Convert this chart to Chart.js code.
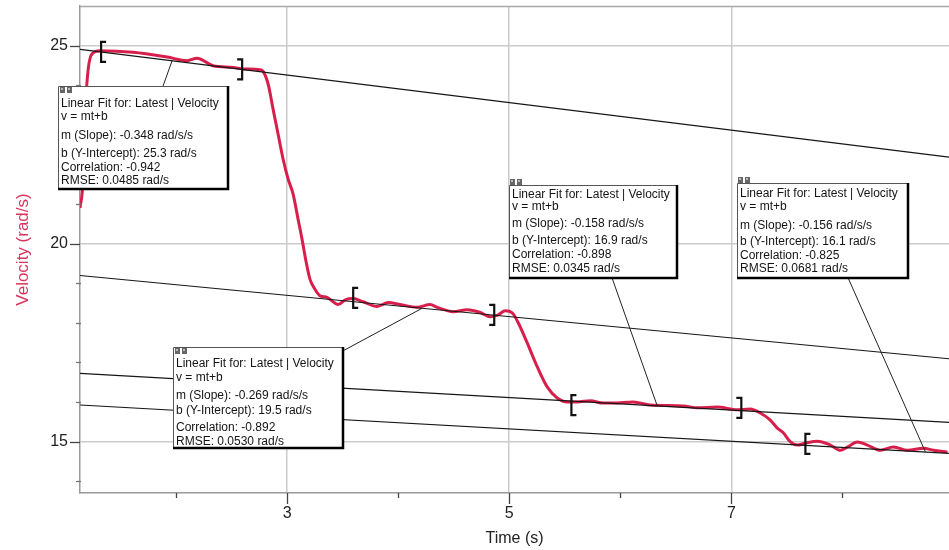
<!DOCTYPE html>
<html><head><meta charset="utf-8">
<script src="https://cdn.jsdelivr.net/npm/chart.js@4/dist/chart.umd.min.js"></script>
<style>html,body{margin:0;padding:0;background:#fff;overflow:hidden}#wrap{width:949px;height:550px;position:relative}</style>
</head><body><div id="wrap"><canvas id="c" width="949" height="550"></canvas></div>
<script>
// ---- data ----
const timeS = [1.135,1.16,1.175,1.2,1.24,1.315,1.613,1.919,2.099,2.189,2.333,2.514,2.604,2.757,2.784,2.829,2.874,2.919,2.964,3.009,3.054,3.099,3.135,3.171,3.207,3.252,3.297,3.36,3.414,3.459,3.523,3.595,3.685,3.811,3.91,4.018,4.171,4.288,4.351,4.495,4.622,4.739,4.829,4.901,4.964,5.027,5.081,5.162,5.252,5.342,5.432,5.523,5.613,5.73,5.847,5.937,6.117,6.27,6.568,6.694,6.874,7.054,7.171,7.261,7.351,7.414,7.468,7.532,7.595,7.667,7.775,7.892,7.982,8.045,8.135,8.225,8.342,8.459,8.586,8.73,8.82,8.946];
const velocity = [20.9,21.5,22.8,24.15,24.78,24.87,24.83,24.71,24.62,24.68,24.49,24.45,24.41,24.39,24.35,24.03,23.39,22.76,22.13,21.63,21.25,20.61,20.1,19.54,19.09,18.84,18.68,18.64,18.53,18.46,18.58,18.61,18.53,18.41,18.51,18.46,18.39,18.46,18.39,18.28,18.33,18.26,18.15,18.2,18.3,18.25,18.0,17.49,16.89,16.38,16.1,16.0,16.0,16.03,15.97,15.97,16.0,15.92,15.9,15.85,15.87,15.8,15.82,15.72,15.54,15.34,15.22,14.99,14.91,14.96,15.01,14.91,14.78,14.86,14.99,14.91,14.78,14.86,14.78,14.83,14.78,14.73];

// linear fit lines (end points across the visible time range)
const fitLineT  = [1.135, 8.96];
const fitLineV0 = [24.905, 19.195, 16.721, 15.923];
const fitLineV1 = [22.182, 17.090, 15.484, 14.702];

// fit statistics shown in the boxes
const fitSlope = ['-0.348','-0.269','-0.158','-0.156'];
const fitIntercept = ['25.3','19.5','16.9','16.1'];
const fitCorrelation = ['-0.942','-0.892','-0.898','-0.825'];
const fitRmse = ['0.0485','0.0530','0.0345','0.0681'];

// fit range brackets: time, velocity, side
const bracketT = [1.325, 2.595, 3.595, 4.865, 5.56, 7.09, 7.667];
const bracketV = [24.84, 24.40, 18.63, 18.20, 15.92, 15.85, 14.94];
const bracketSide = ['[', ']', '[', ']', '[', ']', '['];

// axes
const xTickValues = [2,3,4,5,6,7,8];
const xTickLabels = ['','3','','5','','7',''];
const yTickValues = [14,15,16,17,18,19,20,21,22,23,24,25];
const yTickLabels = ['','15','','','','','20','','','','','25'];
const xMajor = [3,5,7];
const yMajor = [15,20,25];

// ---- annotation layout (positions anchored in data units, sizes in px) ----
const boxLayout = [
  {t:0.937, v:23.975, w:170, h:103, lines:[18,31,50,67.5,81.5,95], icon:[2,1], leader:{dx:105, dy:0, fit:0, t:1.964}},
  {t:1.973, v:17.392, w:170, h:101, lines:[17,31,49,64,80.5,94.5], icon:[2,1], leader:{dx:170, dy:4, fit:1, t:4.216}},
  {t:5.0,   v:21.468, w:168, h:93,  lines:[10,22,39,56,70,84], icon:[1,-6], leader:{dx:103, dy:93, fit:2, t:6.333}},
  {t:7.054, v:21.519, w:171, h:95,  lines:[11,24,43,59,73,86], icon:[1,-6], leader:{dx:111, dy:95, fit:3, t:8.748}}
];

const overlay = {
  id: 'overlay',
  afterDraw(chart) {
    const ctx = chart.ctx, xs = chart.scales.x, ys = chart.scales.y, ca = chart.chartArea;
    ctx.save();
    // top frame line
    ctx.strokeStyle = '#a8a8a8'; ctx.lineWidth = 1.5;
    ctx.beginPath(); ctx.moveTo(ca.left, ca.top + 0.5); ctx.lineTo(ca.right, ca.top + 0.5); ctx.stroke();
    // tick marks
    ctx.strokeStyle = '#444'; ctx.lineWidth = 1.3;
    xTickValues.forEach(v => {
      const px = Math.round(xs.getPixelForValue(v)) + 0.5;
      const len = xMajor.includes(v) ? 11 : 5;
      ctx.beginPath(); ctx.moveTo(px, ca.bottom); ctx.lineTo(px, ca.bottom + len); ctx.stroke();
    });
    yTickValues.forEach(v => {
      const py = Math.round(ys.getPixelForValue(v)) + 0.5;
      const major = yMajor.includes(v);
      ctx.strokeStyle = major ? '#444' : '#777';
      ctx.beginPath(); ctx.moveTo(ca.left - (major ? 10 : 4), py); ctx.lineTo(ca.left + (major ? 0 : 1), py); ctx.stroke();
    });
    // brackets
    ctx.strokeStyle = '#111'; ctx.lineWidth = 2.2;
    bracketT.forEach((t, i) => {
      const px = xs.getPixelForValue(t), py = ys.getPixelForValue(bracketV[i]);
      const d = bracketSide[i] === '[' ? 5 : -5;
      ctx.beginPath();
      ctx.moveTo(px + d, py - 10); ctx.lineTo(px, py - 10); ctx.lineTo(px, py + 10); ctx.lineTo(px + d, py + 10);
      ctx.stroke();
    });
    // leader lines
    ctx.strokeStyle = '#222'; ctx.lineWidth = 1;
    boxLayout.forEach(b => {
      const bx = xs.getPixelForValue(b.t), by = ys.getPixelForValue(b.v);
      const L = b.leader;
      const f = (L.t - fitLineT[0]) / (fitLineT[1] - fitLineT[0]);
      const lv = fitLineV0[L.fit] + f * (fitLineV1[L.fit] - fitLineV0[L.fit]);
      ctx.beginPath(); ctx.moveTo(bx + L.dx, by + L.dy); ctx.lineTo(xs.getPixelForValue(L.t), ys.getPixelForValue(lv)); ctx.stroke();
    });
    // boxes
    boxLayout.forEach((b, i) => {
      const x = Math.round(xs.getPixelForValue(b.t)), y = Math.round(ys.getPixelForValue(b.v));
      ctx.fillStyle = '#fff'; ctx.fillRect(x, y, b.w, b.h);
      ctx.strokeStyle = '#555'; ctx.lineWidth = 1;
      ctx.beginPath(); ctx.moveTo(x + 0.5, y + b.h); ctx.lineTo(x + 0.5, y + 0.5); ctx.lineTo(x + b.w, y + 0.5); ctx.stroke();
      ctx.strokeStyle = '#000'; ctx.lineWidth = 2.5;
      ctx.beginPath(); ctx.moveTo(x + b.w, y); ctx.lineTo(x + b.w, y + b.h); ctx.lineTo(x, y + b.h); ctx.stroke();
      // icon
      ctx.fillStyle = '#666';
      ctx.fillRect(x + b.icon[0], y + b.icon[1], 5, 6);
      ctx.fillRect(x + b.icon[0] + 7, y + b.icon[1], 5, 6);
      ctx.fillStyle = '#bbb';
      ctx.fillRect(x + b.icon[0] + 1, y + b.icon[1] + 1, 2, 2);
      ctx.fillRect(x + b.icon[0] + 8, y + b.icon[1] + 1, 2, 2);
      // text
      const texts = ['Linear Fit for: Latest | Velocity', 'v = mt+b',
        'm (Slope): ' + fitSlope[i] + ' rad/s/s', 'b (Y-Intercept): ' + fitIntercept[i] + ' rad/s',
        'Correlation: ' + fitCorrelation[i], 'RMSE: ' + fitRmse[i] + ' rad/s'];
      ctx.fillStyle = '#141414'; ctx.font = '12px "Liberation Sans", Arial, sans-serif';
      ctx.textBaseline = 'middle'; ctx.textAlign = 'left';
      texts.forEach((s, k) => ctx.fillText(s, x + 3, y + b.lines[k]));
    });
    ctx.restore();
  }
};

const fitColors = '#161616';
const datasets = [
  { label: 'Velocity', data: timeS.map((t, i) => ({x: t, y: velocity[i]})),
    borderColor: '#d81f4b', borderWidth: 3, pointRadius: 0, cubicInterpolationMode: 'monotone', order: 2 }
];
fitLineV0.forEach((v0, i) => datasets.push({
  label: 'Fit ' + (i + 1), data: [{x: fitLineT[0], y: v0}, {x: fitLineT[1], y: fitLineV1[i]}],
  borderColor: fitColors, borderWidth: 1.1, pointRadius: 0, order: 1
}));

new Chart(document.getElementById('c'), {
  type: 'line',
  data: { datasets },
  options: {
    responsive: false, animation: false, events: [],
    layout: { padding: { top: 6, right: 0, left: 0, bottom: 0 } },
    plugins: { legend: { display: false }, tooltip: { enabled: false } },
    scales: {
      x: {
        type: 'linear', min: 1.135, max: 8.96,
        afterBuildTicks: s => { s.ticks = xTickValues.map(v => ({value: v})); },
        afterFit: s => { s.height = 57; s.paddingLeft = 0; s.paddingRight = 0; },
        ticks: { callback: (v, i) => xTickLabels[i], padding: 11, color: '#222', maxRotation: 0, autoSkip: false,
                 font: { family: '"Liberation Sans", Arial, sans-serif', size: 16 } },
        grid: { drawTicks: false, lineWidth: 1.5, color: c => (c.tick && xMajor.includes(c.tick.value)) ? '#cbcbcb' : 'rgba(0,0,0,0)' },
        border: { color: '#999', width: 1.5 },
        title: { display: true, text: 'Time (s)', color: '#222', padding: { top: 0, bottom: 2 },
                 font: { family: '"Liberation Sans", Arial, sans-serif', size: 16 } }
      },
      y: {
        type: 'linear', min: 13.7, max: 26.0,
        afterBuildTicks: s => { s.ticks = yTickValues.map(v => ({value: v})); },
        afterFit: s => { s.width = 80; s.paddingTop = 0; s.paddingBottom = 0; },
        ticks: { callback: (v, i) => yTickLabels[i], padding: 12, color: '#222', autoSkip: false,
                 font: { family: '"Liberation Sans", Arial, sans-serif', size: 16 } },
        grid: { drawTicks: false, lineWidth: 1.5, color: c => (c.tick && yMajor.includes(c.tick.value)) ? '#cbcbcb' : 'rgba(0,0,0,0)' },
        border: { color: '#999', width: 1.5 },
        title: { display: true, text: 'Velocity (rad/s)', color: '#d8345d', padding: { top: 13, bottom: 0 },
                 font: { family: '"Liberation Sans", Arial, sans-serif', size: 17 } }
      }
    }
  },
  plugins: [overlay]
});
</script></body></html>
